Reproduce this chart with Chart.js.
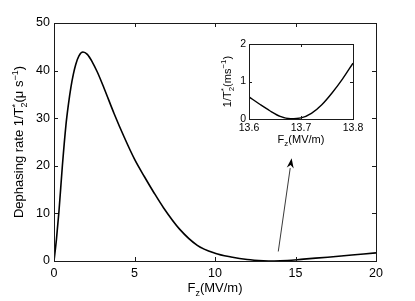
<!DOCTYPE html>
<html>
<head>
<meta charset="utf-8">
<script src="https://cdn.jsdelivr.net/npm/chart.js@4"></script>
<style>
  html, body { margin: 0; padding: 0; background: #fff; }
  #wrap { position: relative; width: 415px; height: 301px; }
  #wrap canvas { position: absolute; left: 0; top: 0; }
</style>
</head>
<body>
<div id="wrap">
  <canvas id="main" width="415" height="301"></canvas>
  <canvas id="inset" width="415" height="301"></canvas>
</div>
<script>
// main curve: dephasing rate (us^-1) vs Fz (MV/m)
var fieldMain = [0, 0.15, 0.31, 0.52, 0.74, 0.9, 1.05, 1.2, 1.35, 1.55, 1.8, 2.07, 2.38, 2.69, 3.11, 3.73, 4.35, 5.0, 5.6, 6.2, 6.8, 7.8, 8.9, 10.0, 11.0, 12.0, 13.0, 13.68, 14.5, 15.5, 17.0, 18.5, 20];
var rateMain = [0, 4.5, 10.5, 20.0, 28.5, 33.0, 36.5, 39.2, 41.3, 43.1, 43.9, 43.4, 41.8, 39.7, 36.3, 31.0, 26.1, 21.4, 17.8, 14.4, 11.2, 6.7, 3.3, 1.65, 0.85, 0.3, 0.05, 0.0, 0.1, 0.4, 0.8, 1.25, 1.7];

// inset: zoom round the minimum, rate in ms^-1
var fieldInset = [13.60, 13.62, 13.64, 13.66, 13.68, 13.70, 13.72, 13.74, 13.76, 13.78, 13.80];
var rateInset = [0.59, 0.40, 0.22, 0.07, 0.01, 0.03, 0.15, 0.38, 0.70, 1.07, 1.49];

var mainXTicks = [0, 5, 10, 15, 20];
var mainYTicks = [0, 10, 20, 30, 40, 50];
var insetXTicks = [13.6, 13.7, 13.8];
var insetYTicks = [0, 1, 2];

// arrow from the curve's minimum up to the inset (data units of main axes)
var arrowFrom = [13.93, 2.0];
var arrowTo = [14.76, 21.6];

var FONT = "'Liberation Sans', Arial, Helvetica, sans-serif";
var AXIS_COLOR = '#1a1a1a';

function toPoints(xs, ys) {
  return xs.map(function (x, i) { return { x: x, y: ys[i] }; });
}

// rich text: parts like {t:'..'} or {sup:'..', sub:'..'}
function richWidth(ctx, parts, size) {
  var w = 0;
  parts.forEach(function (p) {
    if (p.t !== undefined) {
      ctx.font = size + 'px ' + FONT;
      w += ctx.measureText(p.t).width;
    } else {
      ctx.font = Math.round(size * 0.72) + 'px ' + FONT;
      var a = p.sup ? ctx.measureText(p.sup).width : 0;
      var b = p.sub ? ctx.measureText(p.sub).width : 0;
      w += Math.max(a, b);
    }
  });
  return w;
}

function drawRich(ctx, parts, size, x, y) {
  var cx = x;
  ctx.textBaseline = 'alphabetic';
  ctx.textAlign = 'left';
  parts.forEach(function (p) {
    if (p.t !== undefined) {
      ctx.font = size + 'px ' + FONT;
      ctx.fillText(p.t, cx, y);
      cx += ctx.measureText(p.t).width;
    } else {
      ctx.font = Math.round(size * 0.72) + 'px ' + FONT;
      var a = 0, b = 0;
      if (p.sup) { ctx.fillText(p.sup, cx, y - size * 0.42); a = ctx.measureText(p.sup).width; }
      if (p.sub) { ctx.fillText(p.sub, cx, y + size * 0.28); b = ctx.measureText(p.sub).width; }
      cx += Math.max(a, b);
    }
  });
}

function richCentered(ctx, parts, size, cx, baseline, rotate) {
  var w = richWidth(ctx, parts, size);
  ctx.save();
  ctx.fillStyle = '#000';
  if (rotate) {
    ctx.translate(baseline, cx);
    ctx.rotate(-Math.PI / 2);
    drawRich(ctx, parts, size, -w / 2, 0);
  } else {
    drawRich(ctx, parts, size, cx - w / 2, baseline);
  }
  ctx.restore();
}

// frame + inward ticks on all four sides (matlab style)
function frameTicks(len) {
  return {
    id: 'frameTicks',
    afterDatasetsDraw: function (chart) {
      var ctx = chart.ctx, a = chart.chartArea;
      var xs = chart.scales.x, ys = chart.scales.y;
      ctx.save();
      ctx.strokeStyle = AXIS_COLOR;
      ctx.lineWidth = 1;
      ctx.strokeRect(Math.round(a.left) + 0.5, Math.round(a.top) + 0.5,
        Math.round(a.right - a.left), Math.round(a.bottom - a.top));
      ctx.beginPath();
      xs.ticks.forEach(function (t) {
        var px = Math.round(xs.getPixelForValue(t.value)) + 0.5;
        ctx.moveTo(px, a.bottom); ctx.lineTo(px, a.bottom - len);
        ctx.moveTo(px, a.top); ctx.lineTo(px, a.top + len);
      });
      ys.ticks.forEach(function (t) {
        var py = Math.round(ys.getPixelForValue(t.value)) + 0.5;
        ctx.moveTo(a.left, py); ctx.lineTo(a.left + len, py);
        ctx.moveTo(a.right, py); ctx.lineTo(a.right - len, py);
      });
      ctx.stroke();
      ctx.restore();
    }
  };
}

function fixedTicks(list) {
  return function (scale) {
    scale.ticks = list.map(function (v) { return { value: v }; });
  };
}

var arrowPlugin = {
  id: 'arrow',
  afterDatasetsDraw: function (chart) {
    var ctx = chart.ctx, xs = chart.scales.x, ys = chart.scales.y;
    var x0 = xs.getPixelForValue(arrowFrom[0]), y0 = ys.getPixelForValue(arrowFrom[1]);
    var x1 = xs.getPixelForValue(arrowTo[0]), y1 = ys.getPixelForValue(arrowTo[1]);
    var ang = Math.atan2(y1 - y0, x1 - x0);
    var hl = 10, hw = 3.5;
    var bx = x1 - hl * Math.cos(ang), by = y1 - hl * Math.sin(ang);
    ctx.save();
    ctx.strokeStyle = '#222';
    ctx.fillStyle = '#000';
    ctx.lineWidth = 0.9;
    ctx.beginPath();
    ctx.moveTo(x0, y0);
    ctx.lineTo(bx, by);
    ctx.stroke();
    ctx.beginPath();
    ctx.moveTo(x1, y1);
    ctx.lineTo(bx + hw * Math.sin(ang), by - hw * Math.cos(ang));
    ctx.lineTo(x1 - hl * 0.7 * Math.cos(ang), y1 - hl * 0.7 * Math.sin(ang));
    ctx.lineTo(bx - hw * Math.sin(ang), by + hw * Math.cos(ang));
    ctx.closePath();
    ctx.fill();
    ctx.restore();
  }
};

var mainLabels = {
  id: 'mainLabels',
  afterDraw: function (chart) {
    var ctx = chart.ctx, a = chart.chartArea;
    richCentered(ctx, [{ t: 'F' }, { sub: 'z' }, { t: '(MV/m)' }], 13,
      (a.left + a.right) / 2, 292, false);
    richCentered(ctx, [{ t: 'Dephasing rate 1/T' }, { sup: '*', sub: '2' }, { t: '(\u03bc s' }, { sup: '\u22121' }, { t: ')' }], 13,
      (a.top + a.bottom) / 2, 23, true);
  }
};

var insetLabels = {
  id: 'insetLabels',
  beforeDatasetsDraw: function (chart) {
    var ctx = chart.ctx, a = chart.chartArea;
    ctx.save();
    ctx.fillStyle = '#fff';
    ctx.fillRect(a.left, a.top, a.right - a.left, a.bottom - a.top);
    ctx.restore();
  },
  afterDraw: function (chart) {
    var ctx = chart.ctx, a = chart.chartArea;
    richCentered(ctx, [{ t: 'F' }, { sub: 'z' }, { t: '(MV/m)' }], 11,
      (a.left + a.right) / 2, 143, false);
    richCentered(ctx, [{ t: '1/T' }, { sup: '*', sub: '2' }, { t: '(ms' }, { sup: '\u22121' }, { t: ')' }], 11,
      (a.top + a.bottom) / 2, 230.5, true);
  }
};

new Chart(document.getElementById('main'), {
  type: 'line',
  data: {
    datasets: [{
      data: toPoints(fieldMain, rateMain),
      borderColor: '#000',
      borderWidth: 1.6,
      pointRadius: 0,
      cubicInterpolationMode: 'monotone',
      fill: false
    }]
  },
  options: {
    responsive: false,
    animation: false,
    devicePixelRatio: 1,
    layout: { padding: { top: 23, right: 39, left: 0, bottom: 0 } },
    plugins: { legend: { display: false }, tooltip: { enabled: false } },
    scales: {
      x: {
        type: 'linear', min: 0, max: 20,
        afterBuildTicks: fixedTicks(mainXTicks),
        afterFit: function (s) { s.height = 40; },
        grid: { display: false, drawTicks: false },
        border: { display: false },
        ticks: { color: '#000', padding: 5, maxRotation: 0, font: { family: FONT, size: 12.5 } }
      },
      y: {
        type: 'linear', min: 0, max: 50,
        afterBuildTicks: fixedTicks(mainYTicks),
        afterFit: function (s) { s.width = 54; },
        grid: { display: false, drawTicks: false },
        border: { display: false },
        ticks: { color: '#000', padding: 4, font: { family: FONT, size: 12.5 } }
      }
    }
  },
  plugins: [frameTicks(4), arrowPlugin, mainLabels]
});

new Chart(document.getElementById('inset'), {
  type: 'line',
  data: {
    datasets: [{
      data: toPoints(fieldInset, rateInset),
      borderColor: '#000',
      borderWidth: 1.4,
      pointRadius: 0,
      cubicInterpolationMode: 'monotone',
      fill: false
    }]
  },
  options: {
    responsive: false,
    animation: false,
    devicePixelRatio: 1,
    layout: { padding: { top: 44, right: 62, left: 200, bottom: 0 } },
    plugins: { legend: { display: false }, tooltip: { enabled: false } },
    scales: {
      x: {
        type: 'linear', min: 13.6, max: 13.8,
        afterBuildTicks: fixedTicks(insetXTicks),
        afterFit: function (s) { s.height = 182; },
        grid: { display: false, drawTicks: false },
        border: { display: false },
        ticks: {
          color: '#000', padding: 3, maxRotation: 0, font: { family: FONT, size: 10.5 },
          callback: function (v) { return v.toFixed(1); }
        }
      },
      y: {
        type: 'linear', min: 0, max: 2,
        afterBuildTicks: fixedTicks(insetYTicks),
        afterFit: function (s) { s.width = 49; },
        grid: { display: false, drawTicks: false },
        border: { display: false },
        ticks: { color: '#000', padding: 3, font: { family: FONT, size: 10.5 } }
      }
    }
  },
  plugins: [frameTicks(3), insetLabels]
});
</script>
</body>
</html>
